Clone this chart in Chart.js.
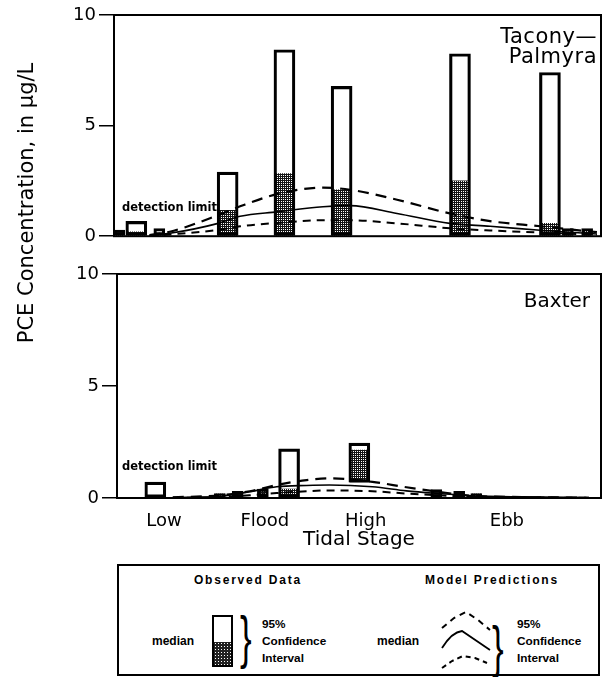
<!DOCTYPE html>
<html>
<head>
<meta charset="utf-8">
<script src="https://cdn.jsdelivr.net/npm/chart.js@4.4.1/dist/chart.umd.min.js"></script>
<style>
  body { margin: 0; background: #fff; }
  #page { position: relative; width: 610px; height: 677px; background: #fff; overflow: hidden;
          font-family: "DejaVu Sans", sans-serif; color: #000; }
  canvas { position: absolute; left: 0; }
  .abs { position: absolute; white-space: nowrap; }
  .site { font-size: 21px; line-height: 20px; text-align: right; }
  .det { font-size: 11.5px; line-height: 11.5px; font-weight: bold; }
  #ytitle { left: -124px; top: 191px; width: 300px; height: 24px; line-height: 24px;
            font-size: 21px; text-align: center; transform: rotate(-90deg); }
  #legend { position: absolute; left: 117px; top: 564px; width: 483px; height: 112px;
            box-sizing: border-box; border: 2px solid #000; }
  .lg { font-family: "Liberation Sans", sans-serif; font-size: 12px; font-weight: bold; }
  .hd { font-family: "Liberation Sans", sans-serif; font-size: 12px; font-weight: bold;
        letter-spacing: 1.8px; text-align: center; width: 200px; line-height: 14px; }
  .ci { font-family: "Liberation Sans", sans-serif; font-size: 11.8px; font-weight: bold; line-height: 17px; }
  .brace { font-family: "Liberation Sans", sans-serif; font-size: 58px; line-height: 54px;
           transform: scaleX(0.6); transform-origin: left top; }
  #lgbox { left: 212px; top: 615px; width: 21px; height: 52px; box-sizing: border-box; border: 2px solid #000; }
  #lgshade { position: absolute; left: 0; right: 0; bottom: 0; height: 23px; background-color: #222;
             background-image: radial-gradient(#fff 0.7px, transparent 0.8px); background-size: 3px 3px; }
</style>
</head>
<body>
<div id="page">
  <canvas id="topChart" width="610" height="250" style="top:0"></canvas>
  <canvas id="bottomChart" width="610" height="310" style="top:250px"></canvas>

  <div class="abs" id="ytitle">PCE Concentration, in μg/L</div>
  <div class="abs site" style="right:13px; top:26px; letter-spacing:0.5px">Tacony—<br>Palmyra</div>
  <div class="abs site" style="right:20px; top:290px; font-size:20px">Baxter</div>
  <div class="abs det" style="left:122px; top:202px">detection limit</div>
  <div class="abs det" style="left:122px; top:461px">detection limit</div>

  <div id="legend"></div>
  <div class="abs hd" style="left:148px; top:573px">Observed Data</div>
  <div class="abs hd" style="left:392px; top:573px">Model Predictions</div>
  <div class="abs lg" style="left:152px; top:634px">median</div>
  <div class="abs" id="lgbox"><div id="lgshade"></div></div>
  <div class="abs brace" style="left:240px; top:610px">}</div>
  <div class="abs ci" style="left:262px; top:616px">95%<br>Confidence<br>Interval</div>
  <div class="abs lg" style="left:377px; top:634px">median</div>
  <svg class="abs" style="left:430px; top:600px" width="70" height="75" viewBox="0 0 70 75">
    <path d="M12 28 L24 18 L36 12 L48 20 L60 30" fill="none" stroke="#000" stroke-width="2" stroke-dasharray="6 5"/>
    <path d="M12 48 Q22 32 32 31 L60 50" fill="none" stroke="#000" stroke-width="1.8"/>
    <path d="M12 68 L22 61 L33 56 L45 58 L57 63" fill="none" stroke="#000" stroke-width="2" stroke-dasharray="5 4"/>
  </svg>
  <div class="abs brace" style="left:492px; top:620px">}</div>
  <div class="abs ci" style="left:517px; top:616px">95%<br>Confidence<br>Interval</div>
</div>

<script>
// tidal stage axis (hours after low tide)
const stageLabels = ["Low", "Flood", "High", "Ebb"];
const stageHours = [0, 3, 6, 10.2];

// Tacony-Palmyra observed: 95% interval box and median
const tpHours  = [-0.74, 1.96, 3.64, 5.33, 8.83, 11.49];
const tpLow    = [0, 0, 0, 0, 0, 0];
const tpMedian = [0.2, 1.17, 2.83, 2.1, 2.5, 0.58];
const tpHigh   = [0.67, 2.9, 8.43, 6.77, 8.25, 7.4];
const tpSmallHours  = [-1.24, -0.06, 12.02, 12.59];
const tpSmallMedian = [0.22, 0.15, 0.2, 0.22];
const tpSmallHigh   = [0.28, 0.35, 0.35, 0.35];

// Tacony-Palmyra model
const tpModelHours = [-0.35, 0.25, 1.68, 2.33, 3.42, 4.78, 5.58, 6.97, 8.53, 9.72, 11.2, 12.88];
const tpModelUpper = [0.05, 0.2, 0.95, 1.35, 1.9, 2.2, 2.1, 1.65, 1.03, 0.68, 0.45, 0.18];
const tpModelMed   = [0.03, 0.13, 0.58, 0.9, 1.1, 1.33, 1.38, 1.03, 0.58, 0.45, 0.27, 0.1];
const tpModelLower = [0.02, 0.08, 0.28, 0.45, 0.6, 0.72, 0.72, 0.58, 0.36, 0.26, 0.17, 0.06];

// Baxter observed
const bxHours  = [-0.26, 3.72, 5.81];
const bxLow    = [0, 0, 0.71];
const bxMedian = [0, 0.4, 2.14];
const bxHigh   = [0.71, 2.19, 2.45];
const bxSmallHours  = [1.66, 2.19, 2.94, 8.1, 8.78, 9.29];
const bxSmallMedian = [0.18, 0.28, 0.36, 0.34, 0.27, 0.18];
const bxSmallHigh   = [0.2, 0.3, 0.4, 0.38, 0.3, 0.2];

// Baxter model
const bxModelHours = [0.26, 1.66, 2.55, 3.35, 4.24, 4.92, 6.2, 7.21, 8.19, 9.17, 10.65, 12.64];
const bxModelUpper = [0.03, 0.12, 0.3, 0.58, 0.8, 0.88, 0.72, 0.48, 0.27, 0.1, 0.04, 0.01];
const bxModelMed   = [0.02, 0.08, 0.28, 0.5, 0.56, 0.58, 0.5, 0.32, 0.2, 0.1, 0.05, 0.02];
const bxModelLower = [0.01, 0.04, 0.12, 0.22, 0.3, 0.34, 0.3, 0.2, 0.12, 0.06, 0.03, 0.01];

function shading() {
  const c = document.createElement("canvas");
  c.width = 4; c.height = 4;
  const g = c.getContext("2d");
  g.fillStyle = "#151515"; g.fillRect(0, 0, 4, 4);
  g.fillStyle = "#fff";
  [[1, 1], [3, 3], [1, 3], [3, 1]].forEach(([x, y]) => g.fillRect(x, y, 1, 1));
  return g.createPattern(c, "repeat");
}
const dots = shading();

const frame = {
  id: "frame",
  afterDraw(chart) {
    const { ctx, chartArea: a } = chart;
    ctx.save();
    ctx.strokeStyle = "#000";
    ctx.lineWidth = 2;
    ctx.strokeRect(a.left, a.top, a.right - a.left, a.bottom - a.top);
    ctx.restore();
  }
};

const pts = (xs, ys) => xs.map((x, i) => ({ x, y: ys[i] }));
const span = (xs, lo, hi) => xs.map((x, i) => ({ x, y: [lo[i], hi[i]] }));
const zeros = n => Array(n).fill(0);

function boxes(xs, lo, med, hi, w) {
  return [
    { type: "bar", data: span(xs, lo, hi), backgroundColor: "rgba(0,0,0,0)", borderColor: "#000",
      borderWidth: 2.5, borderSkipped: false, barThickness: w, grouped: false, order: 1 },
    { type: "bar", data: span(xs, lo, med), backgroundColor: dots, borderWidth: 0,
      barThickness: w - 2, grouped: false, order: 2 }
  ];
}

function model(xs, up, med, lo) {
  const base = { type: "line", pointRadius: 0, borderColor: "#000", cubicInterpolationMode: "monotone", order: 0 };
  return [
    { ...base, data: pts(xs, up), borderWidth: 2.2, borderDash: [11, 7] },
    { ...base, data: pts(xs, med), borderWidth: 1.6 },
    { ...base, data: pts(xs, lo), borderWidth: 2, borderDash: [8, 6] }
  ];
}

function yScale(leftW) {
  return {
    min: 0, max: 10,
    afterFit: s => { s.width = leftW; },
    ticks: { stepSize: 5, color: "#000", padding: 3, font: { family: "DejaVu Sans", size: 18 } },
    grid: { drawOnChartArea: false, tickLength: 15, color: "#000", lineWidth: 1.5 },
    border: { display: true, color: "#000", width: 2 }
  };
}

const common = {
  responsive: false,
  animation: false,
  devicePixelRatio: 1,
  plugins: { legend: { display: false }, tooltip: { enabled: false } }
};

new Chart(document.getElementById("topChart"), {
  type: "bar",
  data: {
    datasets: [
      ...model(tpModelHours, tpModelUpper, tpModelMed, tpModelLower),
      ...boxes(tpHours, tpLow, tpMedian, tpHigh, 21),
      ...boxes(tpSmallHours, zeros(tpSmallHours.length), tpSmallMedian, tpSmallHigh, 11)
    ]
  },
  options: {
    ...common,
    layout: { padding: { top: 15, right: 9, bottom: 12, left: 0 } },
    scales: {
      x: { type: "linear", min: -1.4, max: 13, offset: false, display: false },
      y: yScale(114)
    }
  },
  plugins: [frame]
});

new Chart(document.getElementById("bottomChart"), {
  type: "bar",
  data: {
    datasets: [
      ...model(bxModelHours, bxModelUpper, bxModelMed, bxModelLower),
      ...boxes(bxHours, bxLow, bxMedian, bxHigh, 21),
      ...boxes(bxSmallHours, zeros(bxSmallHours.length), bxSmallMedian, bxSmallHigh, 11)
    ]
  },
  options: {
    ...common,
    layout: { padding: { top: 24, right: 9, bottom: 0, left: 0 } },
    scales: {
      x: {
        type: "linear", min: -1.4, max: 13, offset: false,
        afterFit: s => { s.height = 62; },
        afterBuildTicks: s => { s.ticks = stageHours.map(v => ({ value: v })); },
        ticks: { autoSkip: false, maxRotation: 0, color: "#000", padding: 5,
                 font: { family: "DejaVu Sans", size: 18 },
                 callback: (v, i) => stageLabels[i] },
        grid: { display: false },
        border: { display: false },
        title: { display: true, text: "Tidal Stage", color: "#000", padding: { top: 0, bottom: 8 },
                 font: { family: "DejaVu Sans", size: 20 } }
      },
      y: yScale(117)
    }
  },
  plugins: [frame]
});
</script>
</body>
</html>
